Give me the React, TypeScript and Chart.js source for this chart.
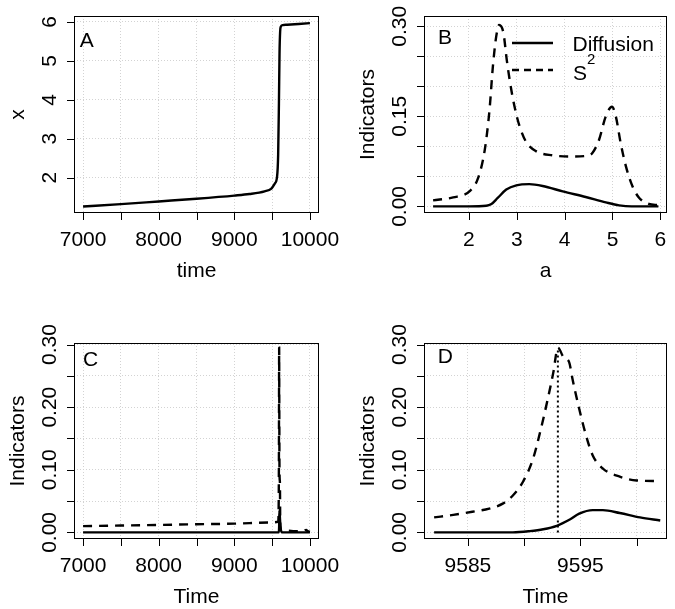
import React, { useEffect, useRef } from "react";
import { Chart, registerables } from "chart.js";

Chart.register(...registerables);

const W = 675;
const H = 609;
const FONT = '"Liberation Sans", Arial, Helvetica, sans-serif';

// ---------- Panel A: state x over time ----------
const timeA = [7000, 7500, 8000, 8500, 9000, 9200, 9400, 9490, 9535, 9565, 9580, 9590, 9598, 9606, 9615, 9640, 9700, 9850, 10000];
const stateA = [1.26, 1.32, 1.39, 1.46, 1.54, 1.58, 1.65, 1.72, 1.85, 2.02, 2.6, 3.9, 5.2, 5.75, 5.88, 5.92, 5.93, 5.95, 5.97];
const xTicksA = [7000, 7500, 8000, 8500, 9000, 9500, 10000];
const xLabelsA = [7000, 8000, 9000, 10000];
const yTicksA = [2, 3, 4, 5, 6];
const yLabelsA = ["2", "3", "4", "5", "6"];

// ---------- Panel B: indicators vs a ----------
const aS2B = [1.25, 1.67, 2.01, 2.19, 2.33, 2.43, 2.5, 2.57, 2.63, 2.72, 2.79, 2.86, 2.95, 3.06, 3.19, 3.4, 3.75, 4.1, 4.44, 4.58, 4.72, 4.86, 4.99, 5.07, 5.17, 5.28, 5.42, 5.56, 5.76, 5.96];
const s2B = [0.010, 0.015, 0.025, 0.047, 0.094, 0.161, 0.233, 0.283, 0.302, 0.289, 0.244, 0.206, 0.167, 0.133, 0.108, 0.092, 0.085, 0.083, 0.084, 0.089, 0.111, 0.150, 0.166, 0.150, 0.106, 0.067, 0.033, 0.014, 0.004, 0.002];
const aDiffB = [1.25, 2.0, 2.36, 2.47, 2.6, 2.78, 2.99, 3.26, 3.54, 3.96, 4.44, 4.86, 5.14, 5.4, 5.96];
const diffB = [0, 0, 0.001, 0.004, 0.014, 0.028, 0.035, 0.037, 0.034, 0.025, 0.0156, 0.0067, 0.0017, 0, 0];
const xTicksB = [2, 3, 4, 5, 6];
const xLabelsB = [2, 3, 4, 5, 6];
const yTicksInd = [0, 0.05, 0.1, 0.15, 0.2, 0.25, 0.3];
const yLabelsB = ["0.00", "0.15", "0.30"];
const yLabelValsB = [0, 0.15, 0.3];

// ---------- Panel C: indicators over time ----------
const tS2C = [7000, 7500, 8000, 8500, 9000, 9500, 9580, 9586, 9590, 9593, 9595, 9597, 9600, 9603, 9608, 9620, 9700, 9800, 9900, 9950, 9970, 10000];
const s2C = [0.010, 0.011, 0.012, 0.013, 0.014, 0.016, 0.017, 0.035, 0.12, 0.295, 0.2, 0.11, 0.085, 0.08, 0.01, 0.003, 0.003, 0.002, 0.002, 0.004, 0.002, 0.001];
const tDiffC = [7000, 9588, 9593, 9596, 9600, 9610, 9630, 10000];
const diffC = [0, 0, 0.01, 0.035, 0.03, 0.01, 0, 0];
const yLabelsCD = ["0.00", "0.10", "0.20", "0.30"];
const yLabelValsCD = [0, 0.1, 0.2, 0.3];

// ---------- Panel D: zoom around the transition ----------
const tS2D = [9582, 9583.7, 9585.4, 9586.9, 9588.1, 9589.0, 9589.9, 9590.8, 9591.5, 9592.1, 9592.6, 9593.0, 9593.5, 9594.0, 9594.3, 9594.9, 9595.5, 9596.1, 9597.0, 9598.5, 9600, 9602];
const s2D = [0.024, 0.028, 0.033, 0.038, 0.046, 0.059, 0.081, 0.118, 0.166, 0.213, 0.256, 0.295, 0.28, 0.272, 0.245, 0.197, 0.155, 0.123, 0.102, 0.089, 0.083, 0.082];
const tDiffD = [9582, 9589, 9590.5, 9591.7, 9592.9, 9594.1, 9594.9, 9596.1, 9597.0, 9598.5, 9600.3, 9602.1];
const diffD = [0, 0, 0.002, 0.005, 0.0106, 0.021, 0.030, 0.0356, 0.0356, 0.031, 0.024, 0.019];
const tMarkD = [9593, 9593];
const markD = [0, 0.295];
const xTicksD = [9585, 9590, 9595, 9600];
const xLabelsD = [9585, 9595];

const pts = (xs: number[], ys: number[]) => xs.map((x, i) => ({ x, y: ys[i] }));

const solid = (xs: number[], ys: number[]) => ({
  data: pts(xs, ys),
  borderColor: "#000",
  borderWidth: 2.4,
  pointRadius: 0,
  fill: false,
  cubicInterpolationMode: "monotone",
});
const dashed = (xs: number[], ys: number[]) => ({
  ...solid(xs, ys),
  borderDash: [9, 7],
});

type Panel = {
  box: [number, number, number, number];
  xMin: number; xMax: number; yMin: number; yMax: number;
  xTicks: number[]; xLabelVals: number[]; xLabels: string[];
  yTicks: number[]; yLabelVals: number[]; yLabels: string[];
  xTitle: string; yTitle: string;
  letter: string; letterAt: [number, number];
  datasets: any[];
  legend?: boolean;
};

const panels: Panel[] = [
  {
    box: [74, 16, 319, 213],
    xMin: 6880, xMax: 10120, yMin: 1.093, yMax: 6.154,
    xTicks: xTicksA, xLabelVals: xLabelsA, xLabels: xLabelsA.map(String),
    yTicks: yTicksA, yLabelVals: yTicksA, yLabels: yLabelsA,
    xTitle: "time", yTitle: "x",
    letter: "A", letterAt: [7050, 5.5],
    datasets: [solid(timeA, stateA)],
  },
  {
    box: [424, 16, 667, 213],
    xMin: 1.06, xMax: 6.14, yMin: -0.011, yMax: 0.317,
    xTicks: xTicksB, xLabelVals: xLabelsB, xLabels: xLabelsB.map(String),
    yTicks: yTicksInd, yLabelVals: yLabelValsB, yLabels: yLabelsB,
    xTitle: "a", yTitle: "Indicators",
    letter: "B", letterAt: [1.5, 0.28],
    datasets: [solid(aDiffB, diffB), dashed(aS2B, s2B)],
    legend: true,
  },
  {
    box: [74, 343, 319, 539],
    xMin: 6880, xMax: 10120, yMin: -0.0105, yMax: 0.3025,
    xTicks: xTicksA, xLabelVals: xLabelsA, xLabels: xLabelsA.map(String),
    yTicks: yTicksInd, yLabelVals: yLabelValsCD, yLabels: yLabelsCD,
    xTitle: "Time", yTitle: "Indicators",
    letter: "C", letterAt: [7100, 0.275],
    datasets: [solid(tDiffC, diffC), dashed(tS2C, s2C)],
  },
  {
    box: [424, 343, 667, 539],
    xMin: 9581.1, xMax: 9602.7, yMin: -0.0105, yMax: 0.3025,
    xTicks: xTicksD, xLabelVals: xLabelsD, xLabels: xLabelsD.map(String),
    yTicks: yTicksInd, yLabelVals: yLabelValsCD, yLabels: yLabelsCD,
    xTitle: "Time", yTitle: "Indicators",
    letter: "D", letterAt: [9583, 0.28],
    datasets: [
      solid(tDiffD, diffD),
      dashed(tS2D, s2D),
      { ...solid(tMarkD, markD), borderWidth: 2, borderDash: [2, 3], cubicInterpolationMode: "default" },
    ],
  },
];

const FS = 21;

function decorPlugin(p: Panel) {
  return {
    id: "decor",
    afterDraw(chart: any) {
      const ctx: CanvasRenderingContext2D = chart.ctx;
      const { left, top, right, bottom } = chart.chartArea;
      const xs = chart.scales.x;
      const ys = chart.scales.y;
      ctx.save();
      ctx.strokeStyle = "#000";
      ctx.fillStyle = "#000";
      ctx.lineWidth = 1;
      ctx.setLineDash([]);
      // box
      ctx.strokeRect(Math.round(left) + 0.5, Math.round(top) + 0.5, Math.round(right - left) - 1, Math.round(bottom - top) - 1);
      // ticks
      ctx.beginPath();
      p.xTicks.forEach((v) => {
        const px = Math.round(xs.getPixelForValue(v)) + 0.5;
        ctx.moveTo(px, bottom);
        ctx.lineTo(px, bottom + 7);
      });
      p.yTicks.forEach((v) => {
        const py = Math.round(ys.getPixelForValue(v)) + 0.5;
        ctx.moveTo(left - 7, py);
        ctx.lineTo(left, py);
      });
      ctx.stroke();
      // x tick labels
      ctx.font = `${FS}px ${FONT}`;
      ctx.textAlign = "center";
      ctx.textBaseline = "alphabetic";
      p.xLabelVals.forEach((v, i) => {
        ctx.fillText(p.xLabels[i], xs.getPixelForValue(v), bottom + 33);
      });
      // x title
      ctx.fillText(p.xTitle, (left + right) / 2, bottom + 64);
      // y tick labels (rotated)
      p.yLabelVals.forEach((v, i) => {
        ctx.save();
        ctx.translate(left - 18.5, ys.getPixelForValue(v));
        ctx.rotate(-Math.PI / 2);
        ctx.fillText(p.yLabels[i], 0, 0);
        ctx.restore();
      });
      // y title
      ctx.save();
      ctx.translate(left - 50.5, (top + bottom) / 2);
      ctx.rotate(-Math.PI / 2);
      ctx.fillText(p.yTitle, 0, 0);
      ctx.restore();
      // panel letter
      ctx.textBaseline = "middle";
      ctx.fillText(p.letter, xs.getPixelForValue(p.letterAt[0]), ys.getPixelForValue(p.letterAt[1]));
      // legend
      if (p.legend) {
        ctx.lineWidth = 2.4;
        ctx.beginPath();
        ctx.moveTo(left + 88, top + 27);
        ctx.lineTo(left + 129, top + 27);
        ctx.stroke();
        ctx.setLineDash([7, 5]);
        ctx.beginPath();
        ctx.moveTo(left + 88, top + 54);
        ctx.lineTo(left + 129, top + 54);
        ctx.stroke();
        ctx.setLineDash([]);
        ctx.textAlign = "left";
        ctx.textBaseline = "alphabetic";
        ctx.fillText("Diffusion", left + 148.5, top + 35);
        ctx.fillText("S", left + 149, top + 64);
        const sw = ctx.measureText("S").width;
        ctx.font = `${Math.round(FS * 0.7)}px ${FONT}`;
        ctx.fillText("2", left + 149 + sw, top + 47.5);
      }
      ctx.restore();
    },
  };
}

function buildConfig(p: Panel): any {
  const [L, T, R, B] = p.box;
  const common = {
    type: "linear",
    ticks: { display: false },
    grid: { color: "#d3d3d3", lineWidth: 1, drawTicks: false },
    border: { display: false, dash: [1, 2] },
  };
  return {
    type: "line",
    data: { datasets: p.datasets },
    options: {
      animation: false,
      responsive: false,
      devicePixelRatio: 1,
      events: [],
      layout: { padding: { left: L, top: T, right: W - R, bottom: H - B } },
      plugins: { legend: { display: false }, tooltip: { enabled: false } },
      scales: {
        x: {
          ...common,
          position: "bottom",
          min: p.xMin,
          max: p.xMax,
          afterBuildTicks: (s: any) => { s.ticks = p.xTicks.map((v) => ({ value: v })); },
          afterFit: (s: any) => { s.height = 0; },
        },
        y: {
          ...common,
          position: "left",
          min: p.yMin,
          max: p.yMax,
          afterBuildTicks: (s: any) => { s.ticks = p.yTicks.map((v) => ({ value: v })); },
          afterFit: (s: any) => { s.width = 0; },
        },
      },
    },
    plugins: [decorPlugin(p)],
  };
}

export default function App() {
  const r0 = useRef<HTMLCanvasElement>(null);
  const r1 = useRef<HTMLCanvasElement>(null);
  const r2 = useRef<HTMLCanvasElement>(null);
  const r3 = useRef<HTMLCanvasElement>(null);
  const refs = [r0, r1, r2, r3];
  useEffect(() => {
    const charts = panels.map((p, i) => new Chart(refs[i].current as HTMLCanvasElement, buildConfig(p)));
    return () => charts.forEach((c) => c.destroy());
  }, []);
  return (
    <div style={{ position: "fixed", left: 0, top: 0, width: W, height: H, background: "#fff" }}>
      {panels.map((p, i) => (
        <canvas
          key={p.letter}
          ref={refs[i]}
          width={W}
          height={H}
          style={{ position: "absolute", left: 0, top: 0, width: W, height: H }}
        />
      ))}
    </div>
  );
}
